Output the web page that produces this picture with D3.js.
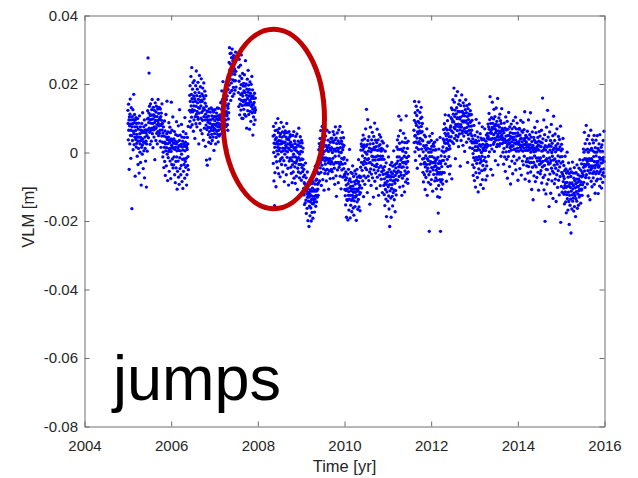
<!DOCTYPE html>
<html><head><meta charset="utf-8">
<script src="https://cdn.jsdelivr.net/npm/d3@7"></script>
<style>body{margin:0;background:#fff}svg{display:block}</style>
</head><body>
<svg id="c" width="638" height="478"></svg>
<script>
// ---- tick labels ----
const xTicks = [2004, 2006, 2008, 2010, 2012, 2014, 2016];
const yTicksMM = [-80, -60, -40, -20, 0, 20, 40];
const yTickLabels = ["-0.08", "-0.06", "-0.04", "-0.02", "0", "0.02", "0.04"];

// ---- VLM series (values in mm), each segment spans [segStart, segEnd] in years ----
const segStart = [2005.00,2005.20,2005.45,2005.80,2006.05,2006.42,2006.85,2007.15,2007.33,2007.55,
                  2008.35,2008.75,2009.05,2009.40,2009.70,2010.00,2010.37,2010.90,2011.20,2011.60,
                  2011.80,2012.10,2012.27,2012.45,2012.95,2013.30,2013.65,2014.20,2014.52,2015.05,2015.50];
const segEnd   = [2005.20,2005.45,2005.80,2006.05,2006.40,2006.85,2007.15,2007.33,2007.50,2007.95,
                  2008.75,2009.05,2009.40,2009.70,2010.00,2010.37,2010.90,2011.20,2011.48,2011.80,
                  2012.10,2012.27,2012.45,2012.95,2013.30,2013.65,2014.20,2014.52,2015.05,2015.50,2016.00];
const segValues = [
"12.3 8.5 3.7 14.1 6.5 9.5 -4.9 10.4 7.8 2.5 11.2 15.6 5 8.3 -1.7 6.5 13.1 9.5 4.9 -16.4 7.5 10.5 3.5 8.4 12.5 0.8 6.2 9.6 17 5.5 2.3 8.7 11.1 4.5 7.5 -6.9 9.5 6.4 3.8 10.2 1.6 8.5",
"5.3 2.7 7.5 -1.1 4.5 9.9 3.4 -3.5 6.8 1.2 8.6 4.5 -6 3.3 10.7 5.5 0.1 2.5 7.5 -2.9 4.4 6.5 -9.5 3.5 1.5 8.5 5.8 -0.5 2.2 11.6 4 6.3 -4.7 3.1 7.5 0.5 5.9 9.5 -7.4 2.8 4.5 1.2 6.6 -2.5 8 3.3 5.7 -10.1 2.5 6.5 4.9 0.4",
"9.8 12.2 6.6 27.6 10 4.3 8.7 11.5 23.2 7.1 13.5 5.9 9.5 2.4 10.8 14.2 8.6 6.5 11 3.3 9.7 12.5 7.1 15.5 5.5 8.5 10.9 1.4 9.8 13.2 6.6 11 4.5 7.5 12.3 8.7 -2.1 10.5 14.5 6.9 9.4 3.5 11.8 7.2 13.5 5.6 8 10.5 2.5 9.3 12.7 6.1 15.5 8.5 4.9 11.4 7.8 9.5 13.2 5.6 10 6.5 3.3 12.7 8.1 10.5 1.5 7.9 11.5 9.4 4.8 14.2 6.6 8.5",
"3 -1.3 5.7 0.1 7.5 2.9 -4.4 4.8 1.5 9.2 -2.6 3 6.3 -6.7 2.5 0.5 11.1 4.5 -3.9 1.4 5.5 15 -0.5 3.8 -8.2 2.6 6 -1.5 4.5 0.3 8.7 1.1 -5.5 3.5 2.9 7.4 -2.5 5.8 1.2 -7.6 4 0.3 14.7 2.1 -3.5 6.5 3.5 -1.9 1.5 10.4 -4.5 2.8",
"1.2 -3.6 4 -1.3 2.7 6.1 -6.5 0.9 3.4 -8.8 1.5 5.2 -2.6 -4.5 2.5 9 -1.3 0.5 -10.7 3.1 -5.5 4.9 1.4 -2.5 7.8 -7.2 0.6 2 -9.3 3.5 12.5 -1.5 -4.7 5.1 0.5 1.9 -6.5 2.4 -3.8 8.2 -0.5 4.5 -8.5 1.6 -2 3.3 -10.5 0.7 6.1 -5.5 2.5 -1.9 -3.5 4.4 1.8 -7.5 10.2 0.5 -2.6 3 -4.3 5.5 -1.7 2.1 -9.5 1.5 -6.5 0.9 4.4 -3.8 2.5 -1.2 7.6 -5",
"12.3 16.7 9.1 19.5 14.9 7.4 11.8 22.2 13.6 17 10.3 24.8 15.7 8.1 12.5 18.5 11.9 20.4 14.8 6.2 16.5 13.6 9.5 21 12.3 15.7 4.1 17.5 10.5 14.9 19.5 8.4 13.5 23.8 11.2 16.6 7.5 12 18.5 14.5 10.3 20.5 9.7 15.5 13.1 2.5 17.5 11.5 22.5 12.9 8.5 16.4 14.8 19.2 6.5 13.6 10 21.5 15.3 11.7 17.1 5.5 14.9 9.4 18.8 12.2 16.5 3.6 13 20.3 10.5 15.7 7.1 12.5 17.9 9.5 14.4 1.8 11.2 16.6 8 13.5 -2.2 10.3 6.7 12.1 -3.7 9.5 11.9 7.4",
"8.8 5.2 10.6 3 7.3 12.7 6.1 9.5 -1.9 8.5 4.4 11.8 7.2 2.6 9.5 13 6.5 5.3 10.7 8.1 3.5 7.5 12.5 9.9 4.5 6.4 11.8 8.2 0.6 7 10.5 5.5 9.3 12.5 6.7 8.1 2.5 10.5 7.9 4.4 11.5 9.8 6.2 8.6 13 5.3 7.5 10.7 3.1 9.5 6.5 12.9 8.4 4.8 10.2 7.6 11 5.3 9.7 8.1 14.5 6.9",
"10.4 14.8 7.2 12.6 18 9.3 5.7 11.1 15.5 8.9 20.7 10.5 13.4 6.8 9.2 16.6 12 4.3 11.7 17.1 8.5 14.5 10.9 2.4 13.8 19.2 9.5 7.6 12 15.5 11.3 0.8 10.7 16.5 8.1 13.5 6.5 12.9 18.4 9.8 14.2 11.6",
"22 26.3 19.7 30.6 24.1 17.5 28.9 21.4 25.8 15.2 23.6 29 20.3 27.7 18.1 24.5 30.2 22.9 16.4 26.8 21.2 25.6 19 28.3 23.7 17.1 27.5 20.9 24.4 22.8 18.2 26.6 21 29.3 23.7 19.1",
"17.5 24.9 13.4 20.8 27.2 15.6 11 22.3 18.7 14.1 25.5 16.9 12.4 19.8 28.5 15.2 21.6 10 17.3 13.7 23.1 16.5 9.9 19.4 14.8 20.2 12.6 18 15.3 22.7 11.1 17.5 13.9 19.4 26.8 15.2 10.6 20 14.3 16.7 7.1 18.5 13.9 21.4 15.8 12.2 17.6 24 14.3 19.7 11.1 16.5 13.9 18.4 6.8 15.2 20.6 12 17.3 14.7 9.1 16.5 19.9 13.4 15.8 22.2 11.6 14 18.3 12.7 5.1 16.5 13.9 10.4 15.8 8.2 14.6 12 17.3 11.7 13.1 9.5 15.9 12.4",
"4.8 -3.2 7.6 0 -8.3 2.7 5.1 -15.5 1.5 -5.9 6.4 3.8 -1.2 8.6 -10 2.5 4.3 -2.7 0.5 6.5 3.1 -4.5 1.5 9.9 -0.5 2.4 5.8 -6.2 3.5 0.6 7 1.3 -2.5 4.7 -7.1 2.5 5.5 -1.9 3.4 8.8 0.2 -3.5 2.6 4.5 -1.5 6 1.3 -5.7 3.1 0.5 7.5 2.9 -2.4 4.8 -8.5 1.2 5.6 -0.5 3 6.3 -3.7 2.1 0.5 4.5 -6.5 1.5 8.5 3.9 -1.4 5.8 0.2 2.5 -4.6 4 1.3 -9.5 3.7 6.1 -2.5 0.9 4.5 2.4 -1.8 5.2",
"-1.6 3 -4.3 1.7 -6.1 0.5 4.9 -2.4 -8.8 2.2 -3.6 5 -1.3 -5.7 1.5 -0.5 6.1 -7.5 -2.9 3.4 0.8 -4.2 2.6 -9 -1.3 4.7 -3.1 1.5 -6.9 0.5 -2.5 5.4 -1.8 -10.8 2.2 -4.6 0 3.3 -5.7 -1.5 7.1 -3.5 1.9 -7.4 -0.5 2.8 -2.2 4.6 -6 0.3 -3.5 1.7 -8.1 3.5 -1.9 -4.4 2.8 0.2 -5.6 -2 1.3 -3.7",
"-7.1 -10.5 -4.9 -12.4 -8.8 -15.2 -6.6 -11 -9.3 -14.7 -3.1 -10.5 -13.9 -7.4 -17.8 -11.2 -9.6 -12 -16.3 -5.7 -13.1 -10.5 -19.9 -12.4 -8.8 -14.2 -11.6 -21.6 -13 -9.3 -15.7 -12.1 -18.5 -10.9 -14.4 -7.8 -16.2 -12.6 -20 -11.3 -13.7 -9.1 -17.5 -14.9 -10.4 -12.8 -19.2 -8.6 -15 -11.3 -13.7 -6.1 -14.5 -10.9 -17.4 -12.8 -9.2 -13.6 -4 -11.3 -15.7 -8.1 -12.5 -10.9 -14.4 -7.8 -11.2 -5.6 -13 -9.3 -10.7 -6.1 -12.5 -8.9",
"-3.4 0.8 -6.2 2.6 -1 -8.3 1.7 4.1 -4.5 -2.9 6.4 -5.8 0.2 -9.6 3 -1.3 -3.7 7.6 -2.1 1.5 -7.9 -0.5 2.4 -4.8 5.2 -1.6 -11 0.3 3.7 -6.1 -2.5 1.9 -3.4 4.8 -5.2 -1.6 2 -8.3 0.7 -2.1 6.5 -4.9 1.4 -1.8 -6.2 3.6 -3 0.3 -10.7 2.1 -2.5 5.9 -5.4 -1.8 1.2 -7.6 3 -3.3 0.7 4.1 -2.5 -4.9",
"1.4 -2.8 4.2 -5.6 0 3.3 -1.7 6.1 -7.5 2.9 -3.4 0.8 5.2 -4.6 1 -9.3 3.7 -1.1 7.5 -2.9 0.4 -6.8 4.2 -12.8 2.6 -3 1.3 5.7 -5.1 0.5 -2.9 3.4 -8.8 1.2 6.6 -1 -4.3 2.7 0.1 -3.5 7.6 -6.9 1.4 -2.8 4.2 -10.6 0 3.3 -1.7 -5.1 2.5 5.9 -3.4 0.8 -7.2 1.6 -2 4.3 -4.7 2.1 -1.5 -6.9",
"-6.4 -10.8 -3.2 -12.6 -8 -15.3 -5.7 -11.1 -9.5 -18.9 -7.4 -13.8 -2.2 -10.6 -14 -6.3 -19.7 -9.1 -12.5 -4.9 -11.4 -16.8 -8.2 -13.6 0.9 -10.3 -7.7 -19.1 -12.5 -9.9 -15.4 -5.8 -11.2 -8.6 -14 -17.3 -10.7 -6.1 -12.5 -3.9 -13.4 -9.8 -16.2 -11.6 -7 -18.3 -10.7 -14.1 -8.5 -12.9 -5.4 -15.8 -9.2 -11.6 -13 -6.3 -10.7 -19.8 -8.1 -12.5 -4.9 -14.4 -10.8 -7.2 -16.6 -9 -11.3 -13.7 -2.1 -8.5 -15.9 -10.4 -6.8 -12.2 -9.6 -17 -7.3 -11.7",
"-4.3 0.7 -7.1 2.5 -2.9 -10.4 1.8 -5.2 3.6 -1 -8.3 0.7 5.1 -3.5 -12.9 1.4 -6.8 2.2 -2.6 4 -9.3 -1.7 0.1 -4.5 6.9 -7.4 1.8 -3.2 12.6 -5 -0.5 2.3 -11.7 -2.1 9.6 3.5 -6.9 0.4 -1.8 -8.2 4.6 -3 1.3 -5.7 -15.1 2.5 -2.9 7.4 -4.8 0.2 -9.6 1 -6.3 3.7 -1.1 -3.5 5.9 -7.4 0.8 -2.2 2.6 -13 -1.3 4.7 -5.1 1.5 -3.9 8.6 -8.4 0.8 -2.2 3.6 -6 -1.3 1.7 -4.1 -10.5 2.9 -3.4 6.8 -7.2 0.6 -1 -5.3 3.7 -2.1 -12.5 1.9 -4.4 0.8 5.2 -6.6 -2 2.3 -9.7 -1.1 4.5 -3.9 0.4 -7.8 1.2 -5.6 -2 3.3 -11.7 -1.1 -4.5 0.9 -6.4 2.8",
"-5.2 -9.6 -2 -12.3 -7.7 -4.1 -15.5 -8.9 0.4 -10.8 -6.2 -13.6 -3 -9.3 -18.7 -7.1 -11.5 1.9 -8.4 -5.8 -14.2 -6.6 -10 -1.3 -12.7 -7.1 -16.5 -4.9 -9.4 -21.6 -6.8 -11.2 -3.6 -8 -13.3 -5.7 -18.9 -7.1 -10.5 -2.9 -9.4 -12.8 -6.2 -15.6 -4 -8.3 -11.7 -7.1 0.5 -10.9 -5.4 -13.8 -8.2 -3.6 -9 -17.3 -6.7 -11.1 -4.5 -7.9 -12.4 -5.8",
"-3.2 1.6 -6 -1.3 3.7 -8.1 -2.5 0.9 -5.4 4.8 -4.2 10.6 -7 -1.3 2.7 -10.1 -3.5 0.9 6.4 -5.8 -2.2 9.5 -6.6 1 -4.3 -12.5 -1.7 3.1 -7.5 -2.9 0.4 -9.8 -4.2 5.6 -3 1.3 -6.7 -1.1 -11.5 2.9 -5.4 -2.8 4.2 -8.6 0 -3.3 10.7 -6.1 -1.5 2.9 -4.4 -7.8 1.2 -2.6 -9 3.3 -5.7 -1.1",
"6.5 2.9 9.4 14.9 4.8 0.2 11.6 5 -2.3 8.7 3.1 13.5 7.9 1.4 10.8 4.2 -4.6 6 12.3 2.7 9.1 5.5 0.9 7.4 14.8 3.2 8.6 -1 6.3 11.7 4.1 2.5 9.9 -3.4 5.8 13.2 7.6 1 10.3 3.7 6.1 8.5",
"-1.9 3.4 -5.8 0.2 -8.6 2 -3.3 -1.7 5.1 -6.5 -2.9 1.4 -10.8 -4.2 4.6 -1 -7.3 0.7 2.1 -3.5 6.9 -5.4 -12.5 -1.8 1.2 -4.6 3 -2.3 -8.7 0.1 -6.5 2.9 -23 -3.4 4.8 -1.2 -5.6 1 -9.3 -2.7 0.1 3.5 -7.9 -4.4 1.8 -1.2 5.6 -3 -11.3 0.7 -5.1 2.5 -2.9 -6.4 1.8 -4.2 -1.6 3 -8.3 0.7 -3.1 -2.5",
"-3.9 -7.4 0.8 -5.2 -10.6 -2 -6.3 3.7 -8.1 -4.5 -12.9 -1.4 -5.8 -17.7 -3.2 -9.6 1 -6.3 -4.7 -13.1 -2.5 -7.9 4.4 -5.8 -23 -3.2 -8.6 -1 -6.3 -10.7 -4.1 0.5 -7.9 -2.4 -5.8 -9.2",
"1.6 4 -2.3 6.7 0.1 3.5 -5.9 8.4 2.8 -1.2 5.6 11 -3.3 2.7 7.1 0.5 4.9 -8.4 3.8 1.2 6.6 -2 9.3 2.7 -4.1 5.5 0.9 3.4 10.8 -1.2 4.6 2 -6.3 6.7 1.1 3.5 -3.9 7.4",
"7.8 10.2 4.6 13 6.3 -7.7 9.7 3.1 12.5 8.9 15.4 5.8 11.2 2.6 9 18.8 7.3 14.7 4.1 10.5 6.9 12.4 -1.8 8.2 16.6 5 11.3 7.7 13.1 3.5 9.9 6.4 17.8 10.2 4.6 12 8.3 1.7 14.1 7.5 11.9 5.4 9.8 15.2 6.6 -4 10.3 13.7 8.1 3.5 11.9 7.4 16.8 9.2 5.6 12 6.3 10.7 2.1 14.5 8.9 11.4 4.8 9.2 13.6 7 0.3 10.7 6.1 12.5 8.9 15.4 5.8 9.2 11.6 3 7.3 13.7 6.1 10.5 -2.9 8.4 12.8 5.2 9.6 4 11.3 7.7 14.1 6.5 10.9 1.4 8.8 12.2 5.6 9 3.3 7.7 11.1 6.5 4.9 9.4 2.8",
"1.2 -3.6 4 -0.3 -6.7 3.1 -1.5 7.9 -4.4 2.8 -8.2 0.6 5 -2.3 1.7 -10.1 3.5 -5.9 9.7 -1.4 2.8 -3.2 0.6 6 -7.3 1.7 -2.1 4.5 -11.5 0.9 3.4 -4.8 -1.2 8.6 -6 2.3 0.7 -3.1 5.5 -1.9 -9.4 1.8 4.2 -2.6 0 -5.3 3.7 -1.1 7.5 -7.9 2.4 -3.8 1.2 -10.5 0.6 4 -2.3 3.7 -5.1 1.5 6.9 -1.4 -4.8 2.2 0.6 -8 3.3 -2.7 5.1 1.5 -3.9 2.4 -6.8 4.2",
"5.6 2 8.3 4.7 -1.1 7.5 3.9 11.4 6.8 0.2 9.6 4 16.3 5.7 2.1 8.5 -4.9 6.4 3.8 10.2 5.6 1 7.3 14.7 4.1 -6.6 8.5 6.9 2.4 9.8 5.2 12.6 3 0.3 7.7 4.1 10.5 6.9 -2.4 5.8 8.2 3.6 13 6.3 1.7 9.1 4.5 7.9 2.4 15.8 5.2 -3.6 8 6.3 3.7 10.1 4.5 1.9 7.4 5.8 11.2 2.6 6 9.3 4.7 -1.1 8.5 3.9 6.4 12.8 5.2 2.6 7 4.3",
"3.7 0.1 6.5 2.9 -3.4 5.8 1.2 8.6 4 -1.3 3.7 7.1 -5.5 2.9 10.4 4.8 0.2 6.6 -2 3.3 1.7 9.1 -7.5 4.9 2.4 6.8 -1.2 3.6 11.7 5 0.3 2.7 -4.1 7.5 3.9 1.4 5.8 -9.2 4.6 2 8.3 0.7 3.1 -2.5 6.9 4.4 1.8 -6.2 5.6 2 9.3 3.7 -1.1 4.5 0.9 7.4 2.8 -3.2 5.6 1 10.3 3.7 -5.1 2.5 6.9 0.4 4.8 -2.2 8.6 3 1.3 5.7 -8.1 2.5 4.9 0.4 6.8 3.2 -1.6 7 2.3 -4.7 5.1 1.5 3.9 9.4 0.8 4.2 -6.6 2 6.3 1.7 3.1 -2.5 5.9 0.4 8.8 2.2 -3.6 4 1.3 6.7 -1.1 3.5 11.9 2.4 -7.8 4.2 0.6 5 2.3 -2.7 3.1",
"1.5 -3.9 4.4 -1.8 6.2 0.6 -6 2.3 -2.7 9.5 -4.1 1.5 3.9 -8.4 0.8 5.2 -1.6 -3 2.3 11.6 -5.7 0.1 4.5 -2.9 1.4 -10.8 3.2 -1.6 6 -4.3 0.7 2.1 -13.8 1.5 -2.9 4.4 -6.8 0.2 3.6 -1 7.3 -3.7 1.1 -8.5 2.9 0.4 5.8 -4.2 -1.6 3 -7.3 1.7 9.1 -2.5 0.9 4.4 -5.8 2.2 -1.6 -11 3.3 0.7 6.1 -3.5 1.9 -2.4 4.8 -6.2",
"-1.6 3 -5.3 1.7 -3.1 6.5 -8.9 0.4 2.8 -4.2 15.9 -2.6 4 -7.3 0.7 -1.1 9.5 -10.9 1.4 -3.8 5.2 -6.6 -20.1 2 -2.3 0.7 -12.1 3.5 -4.9 7.4 -1.8 -9.2 1.6 -5 12.3 -2.7 0.1 4.5 -7.9 -3.4 1.8 -15.8 2.2 -1.6 6 -6.3 0.7 -3.1 3.5 -11.9 -2.4 1.8 8.2 -4.6 0 -8.3 2.7 -1.1 -5.5 4.9 -13.4 0.8 -2.2 10.6 -6 1.3 -3.7 -9.1 3.5 -1.9 5.4 -7.8 0.2 -4.6 2 -14.3 -2.7 1.1 -6.5 6.9 -3.4 0.8 -10.2 2.6 -1 -5.3 4.7 -8.1 -2.5 0.9 -12.4 3.8 -4.2 1.6 -7 -1.3 7.7 -20.4 -3.1 0.5 -9.9 2.4 -5.8 -1.2 -11.6 1 -6.3 -2.7 4.1 -8.5",
"-6.9 -10.4 -3.8 -12.2 -7.6 -15 -5.3 -9.7 -1.1 -11.5 -8.9 -14.4 -4.8 -10.2 -17.6 -6 -12.3 -8.7 0.1 -13.5 -9.9 -5.4 -16.8 -7.2 -11.6 -3 -14.3 -9.7 -21 -6.1 -12.5 -8.9 -15.4 -4.8 -10.2 -13.6 -7 -23.5 -11.3 -5.7 -9.1 -16.5 -8.9 -12.4 -2.8 -14.2 -10.6 -6 -13.3 -9.7 -17.1 -7.5 -11.9 -4.4 -15.8 -8.2 -12.6 -6 -10.3 -18.7 -9.1 -13.5 -5.9 -11.4 -7.8 -14.2 -3.6 -10 -16.3 -8.7 -12.1 -6.5 -9.9 -15.4 -7.8 -11.2 -4.6 -13 -8.3 -10.7 -2.1 -12.5 -6.9 -9.4 -14.8 -5.2 -8.6 -11 -3.3 -10.7 -7.1 -12.5 -5.9 -9.4 -6.8",
"-2.2 -6.6 1 -4.3 -8.7 0.1 -3.5 5.9 -5.4 -1.8 -10.2 2.6 -4 -7.3 0.7 -2.1 7.9 -6.5 -1.9 -3.4 3.8 -9.2 -2.6 1 -5.3 -12.7 0.1 -3.5 4.9 -7.4 -1.8 -4.2 2.6 -6 -13.8 -2.3 0.7 -5.1 6.5 -3.9 -8.4 -1.8 1.2 -4.6 -10 -2.3 3.7 -6.1 0.5 -3.9 -7.4 2.8 -1.2 -5.6 5 -9.3 -2.7 0.1 -4.5 -11.9 1.4 -3.8 -6.2 3.6 -1 -8.3 -2.7 0.1 -5.5 4.9 -3.4 -7.8 1.2 -2.6 -12 -4.3 0.7 -6.1 2.5 -3.9 -1.4 -9.8 5.2 -5.6 -2 0.3 -7.7 -3.1 1.5 -4.9 -10.4 -1.8 2.2 -6.6 -3 0.3 -8.7 -2.1 3.5 -5.9 -1.4 -4.8 6.2 -2.6 -7"
];

// ---- annotation (data coordinates: years, mm) ----
const ellipseCenter = [2008.367, 9.8];
const ellipseRadii = [1.171, 26.2];
const annotationText = "jumps";

// ---- build points ----
const points = [];
segValues.forEach((s, k) => {
  const vals = s.trim().split(/\s+/).map(Number);
  const n = vals.length, a = segStart[k], b = segEnd[k];
  vals.forEach((v, i) => points.push({t: a + (i + 0.5) * (b - a) / n, v}));
});

const svg = d3.select("#c");
const x = d3.scaleLinear().domain([2004, 2016]).range([84.5, 604.5]);
const y = d3.scaleLinear().domain([-80, 40]).range([426.5, 15.5]);
const axisColor = "#6e6e6e", textColor = "#262626";
const font = "'Liberation Sans', Arial, Helvetica, sans-serif";

// data
svg.append("g").selectAll("circle").data(points).join("circle")
  .attr("cx", d => x(d.t)).attr("cy", d => y(d.v)).attr("r", 1.65)
  .attr("fill", "#0000ff");

// axes
function styleAxis(g) {
  g.selectAll("path.domain").attr("stroke", axisColor).attr("stroke-width", 1);
  g.selectAll(".tick line").attr("stroke", axisColor);
  g.selectAll("text").attr("fill", textColor).style("font-family", font).style("font-size", "15px");
}
svg.append("g").attr("transform", "translate(0,426.5)")
  .call(d3.axisBottom(x).tickValues(xTicks).tickFormat(d3.format("d")).tickSizeInner(-5).tickSizeOuter(0).tickPadding(13.5))
  .call(styleAxis);
svg.append("g").attr("transform", "translate(0,15.5)")
  .call(d3.axisTop(x).tickValues(xTicks).tickFormat("").tickSizeInner(-5).tickSizeOuter(0))
  .call(styleAxis);
svg.append("g").attr("transform", "translate(84.5,0)")
  .call(d3.axisLeft(y).tickValues(yTicksMM).tickFormat((d, i) => yTickLabels[i]).tickSizeInner(-5).tickSizeOuter(0).tickPadding(6.5))
  .call(styleAxis);
svg.append("g").attr("transform", "translate(604.5,0)")
  .call(d3.axisRight(y).tickValues(yTicksMM).tickFormat("").tickSizeInner(-5).tickSizeOuter(0))
  .call(styleAxis);

// axis labels
svg.append("text").attr("x", 344.5).attr("y", 472).attr("text-anchor", "middle")
  .attr("fill", textColor).style("font-family", font).style("font-size", "16.5px").text("Time [yr]");
svg.append("text").attr("transform", "translate(33.5,217) rotate(-90)").attr("text-anchor", "middle")
  .attr("fill", textColor).style("font-family", font).style("font-size", "16.5px").text("VLM [m]");

// ellipse annotation
const cx = x(ellipseCenter[0]), cy = y(ellipseCenter[1]);
svg.append("ellipse").attr("cx", cx).attr("cy", cy)
  .attr("rx", x(ellipseCenter[0] + ellipseRadii[0]) - cx)
  .attr("ry", cy - y(ellipseCenter[1] + ellipseRadii[1]))
  .attr("fill", "none").attr("stroke", "#c00000").attr("stroke-width", 5);

// text annotation
svg.append("text").attr("x", 113).attr("y", 400).attr("fill", "#000")
  .style("font-family", font).style("font-size", "63px").text(annotationText);
</script>
</body></html>
